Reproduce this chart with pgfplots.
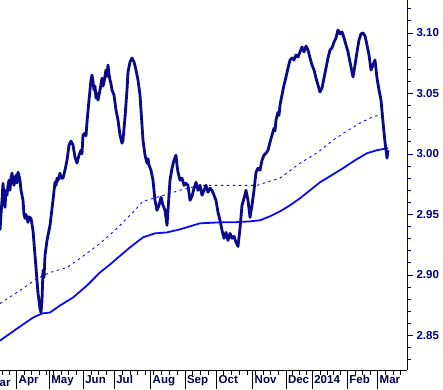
\documentclass[border=0pt]{standalone}
\usepackage{fontspec}
\setmainfont{Liberation Sans}
\usepackage{pgfplots}
\pgfplotsset{compat=1.18}
\definecolor{navyc}{HTML}{000080}
\definecolor{pricec}{HTML}{0A0A8A}
\definecolor{maBlue}{HTML}{0A0AF5}
\begin{document}
\begin{tikzpicture}
\path[use as bounding box] (0,0) rectangle (443pt,389pt);
\begin{axis}[
  at={(0pt,19pt)}, anchor=south west,
  scale only axis, width=407pt, height=370pt,
  xmin=0, xmax=407, ymin=2.8215, ymax=3.1272,
  axis x line=none, axis y line*=right,
  y axis line style={navyc, line width=0.8pt, -},
  ytick={2.85,2.90,2.95,3.00,3.05,3.10},
  minor ytick={2.83,2.84,2.86,2.87,2.88,2.89,2.91,2.92,2.93,2.94,2.96,2.97,2.98,2.99,3.01,3.02,3.03,3.04,3.06,3.07,3.08,3.09,3.11,3.12},
  tick align=outside, major tick length=6pt, minor tick length=3.5pt,
  ytick style={navyc, line width=0.8pt},
  yticklabel style={text=navyc, font=\bfseries\fontsize{11.5}{13}\selectfont,
    /pgf/number format/fixed, /pgf/number format/fixed zerofill,
    /pgf/number format/precision=2, /pgf/number format/assume math mode=true},
]
\draw[black, line width=1pt] (rel axis cs:0,1) -- (rel axis cs:1,1);
% 100-day MA (dashed)
\addplot[maBlue, line width=0.9pt, dash pattern=on 2.5pt off 3.5pt] coordinates {
(0,2.8764) (20,2.8872) (37,2.8971) (50,2.9021) (67,2.9062) (80,2.9137) (100,2.9261)
(117,2.9385) (133,2.9518) (143,2.9609) (157,2.9642) (180,2.9700) (200,2.9741)
(257,2.9741) (270,2.9775) (280,2.9800) (300,2.9924) (318,3.0015) (333,3.0114)
(345,3.0180) (360,3.0255) (372,3.0304) (385,3.0338)
};
% 200-day MA (solid)
\addplot[maBlue, line width=1.8pt] coordinates {
(0,2.8458) (17,2.8557) (33,2.8648) (42,2.8682) (50,2.8690) (60,2.8748) (73,2.8814)
(87,2.8913) (100,2.9021) (110,2.9087) (117,2.9137) (130,2.9228) (143,2.9311)
(155,2.9344) (167,2.9352) (180,2.9377) (200,2.9427) (220,2.9435) (233,2.9435)
(250,2.9443) (260,2.9452) (270,2.9485) (280,2.9526) (290,2.9576) (300,2.9634)
(310,2.9700) (320,2.9766) (330,2.9816) (343,2.9882) (355,2.9948) (367,3.0006)
(377,3.0031) (388,3.0048)
};
% price
\addplot[pricec, line width=2.8pt, line join=round] coordinates {
(0,2.9369) (1,2.9500) (2,2.9617) (3,2.9758) (4,2.9650) (5,2.9559) (6,2.9700) (7,2.9659)
(8,2.9740) (9,2.9783) (10,2.9700) (11,2.9800) (12,2.9841) (13,2.9780)
(14,2.9741) (15,2.9800) (16,2.9824) (17,2.9760) (18,2.9849) (19,2.9820) (20,2.9783)
(21,2.9700) (23,2.9617) (24,2.9500) (25,2.9468) (26,2.9500) (28,2.9435) (29,2.9480)
(31,2.9468) (33,2.9369) (35,2.9162) (37,2.8955) (38,2.8850) (39,2.8789) (40,2.8720)
(41,2.8690) (42,2.8789) (43,2.9038) (44,2.8980) (45,2.9162) (47,2.9286) (50,2.9410)
(53,2.9617) (55,2.9766) (56,2.9740) (57,2.9800) (58,2.9780) (60,2.9841) (61,2.9800)
(63,2.9800) (65,2.9866) (67,2.9948) (69,3.0073) (71,3.0106) (73,3.0073)
(75,2.9973) (77,2.9924) (79,2.9990) (81,3.0031) (82,3.0000) (83,3.0155) (85,3.0172)
(86,3.0150) (87,3.0263) (89,3.0445) (91,3.0611) (92,3.0652) (93,3.0600) (94,3.0528)
(95,3.0560) (96,3.0462) (97,3.0500) (98,3.0445) (100,3.0528)
(102,3.0627) (103,3.0560) (104,3.0594) (106,3.0694) (107,3.0640) (108,3.0735)
(109,3.0660) (110,3.0611) (111,3.0580) (112,3.0528)
(114,3.0487) (116,3.0362) (118,3.0280) (120,3.0155) (122,3.0089) (123,3.0114)
(125,3.0304) (127,3.0528) (128,3.0677) (130,3.0760) (132,3.0793) (134,3.0760)
(136,3.0694) (138,3.0611) (140,3.0487) (142,3.0238) (143,3.0114) (145,2.9990)
(147,2.9924) (148,2.9960) (149,2.9907) (151,2.9866) (153,2.9783) (155,2.9617)
(157,2.9534) (159,2.9576) (161,2.9642) (163,2.9576) (165,2.9534) (167,2.9410)
(169,2.9659) (170,2.9783) (172,2.9882) (174,2.9948) (176,2.9990) (177,2.9907)
(178,2.9849) (180,2.9783) (182,2.9800) (184,2.9741) (186,2.9758) (188,2.9741)
(190,2.9617) (192,2.9650) (194,2.9717) (196,2.9766) (198,2.9700) (200,2.9741)
(202,2.9659) (204,2.9700) (206,2.9741) (208,2.9683) (210,2.9717) (212,2.9700)
(214,2.9659) (216,2.9617) (218,2.9518) (220,2.9452) (222,2.9369) (224,2.9303)
(226,2.9352) (228,2.9286) (230,2.9344) (232,2.9303) (234,2.9320) (236,2.9270)
(238,2.9236) (240,2.9385) (242,2.9576) (244,2.9634) (246,2.9700) (248,2.9617)
(250,2.9476) (252,2.9576) (254,2.9700) (256,2.9849) (258,2.9882) (260,2.9866)
(262,2.9948) (264,2.9990) (266,3.0006) (268,3.0031) (270,3.0097) (272,3.0155)
(274,3.0213) (275,3.0190) (276,3.0280) (278,3.0346) (279,3.0320) (280,3.0404)
(282,3.0487) (284,3.0569) (286,3.0636) (288,3.0710) (290,3.0776) (292,3.0793)
(294,3.0776) (296,3.0818) (298,3.0801) (300,3.0843) (302,3.0884) (304,3.0843)
(306,3.0892) (308,3.0859) (310,3.0793) (312,3.0735) (314,3.0694) (316,3.0627)
(318,3.0569) (320,3.0511) (322,3.0545) (324,3.0627) (326,3.0710) (328,3.0793)
(330,3.0859) (332,3.0876) (334,3.0925) (336,3.0959) (338,3.1025) (340,3.0992)
(342,3.1008) (344,3.0959) (346,3.0900) (348,3.0843) (350,3.0760) (352,3.0677)
(353,3.0636) (355,3.0735) (357,3.0843) (359,3.0942) (361,3.0992) (363,3.1000)
(365,3.0975) (367,3.0900) (369,3.0818) (371,3.0694) (373,3.0735) (375,3.0776)
(377,3.0627) (379,3.0528) (381,3.0445) (383,3.0263) (385,3.0097) (386,3.0031)
(387,2.9965) (388,3.0031)
};
\end{axis}
\begin{axis}[
  at={(0pt,19pt)}, anchor=south west,
  scale only axis, width=407pt, height=370pt,
  xmin=0, xmax=407, ymin=0, ymax=1,
  axis y line=none, axis x line*=bottom,
  x axis line style={black, line width=0.8pt, -},
  xtick={16.7,49.3,83.3,114.3,150.7,185,216.7,252.7,286,312.3,347.3,377.7},
  xticklabels={Apr,May,Jun,Jul,Aug,Sep,Oct,Nov,Dec,2014,Feb,Mar},
  minor xtick={1.9,9.3,24.1,31.5,38.9,46.3,53.7,61.1,68.5,75.9,91.05,98.8,106.55,
    122.1,129.9,137.8,145.6,153.4,161.2,169.0,176.9,192.5,200.3,208.1,223.8,231.6,
    239.4,247.2,255.1,262.9,270.7,278.5,292.8,299.6,306.4,320.1,326.9,333.7,340.5,
    354.9,362.5,370.1,385.3,392.9,400.5},
  tick align=outside, major tick length=19pt, minor tick length=5pt,
  xtick style={black, line width=0.8pt},
  xticklabel style={anchor=base west, text=navyc!60!black,
    font=\bfseries\fontsize{11.5}{13}\selectfont, xshift=-1.5pt, yshift=5.5pt},
  clip=false,
]
\node[anchor=base west, text=navyc!60!black, font=\bfseries\fontsize{11.5}{13}\selectfont]
  at (axis cs:-13.5,0) [yshift=-16.7pt] {Mar};
\end{axis}
\end{tikzpicture}
\end{document}
